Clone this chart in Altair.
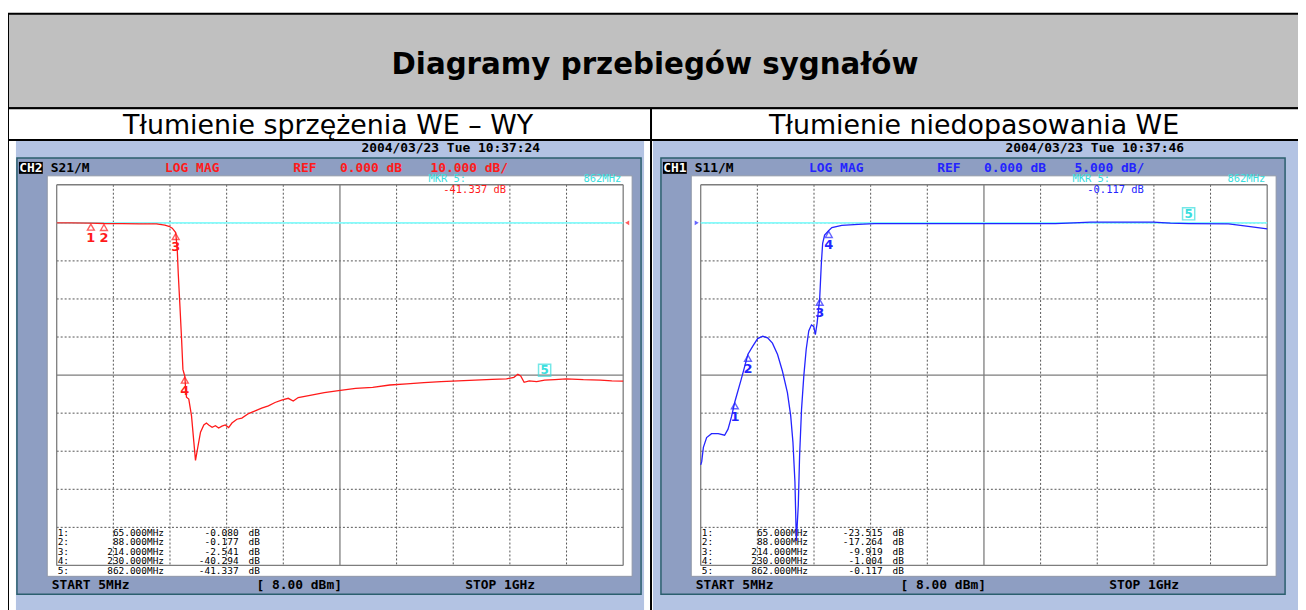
import altair as alt
import pandas as pd

# ---------------- data ----------------
TITLE = "Diagramy przebiegów sygnałów"
SUBTITLES = ["Tłumienie sprzężenia WE – WY", "Tłumienie niedopasowania WE"]

# S21 (left) trace: frequency [MHz], level [dB]
s21_freq = [5, 30, 65, 88, 120, 150, 180, 195, 202, 208, 214, 216.8, 218.5, 221.5, 224.4,
            226.7, 230, 231.5, 233, 237, 241.8, 245.9, 248.8, 253.4, 257.6, 263.4, 268, 272,
            278, 283.8, 289.5, 295.3, 301.2, 307, 312.8, 321.5, 330.2, 342, 353.6, 365, 376.8,
            388.5, 400, 411.7, 420.5, 429.2, 450, 475, 500, 530, 560, 590, 620, 650, 680, 710,
            740, 770, 795, 808, 815, 820, 826, 835, 848, 862, 880, 900, 930, 960, 980, 1000]
s21_db = [0.0, -0.03, -0.08, -0.18, -0.2, -0.25, -0.3, -0.6, -0.9, -1.4, -2.54, -7.2, -13.3,
          -22.0, -30.7, -38.5, -40.3, -43.7, -45.8, -46.3, -50.7, -57.6, -62.4, -58.5, -55.0,
          -53.1, -52.6, -53.1, -53.7, -53.3, -53.9, -53.4, -53.1, -53.8, -52.6, -51.6, -51.3,
          -50.1, -49.4, -48.7, -48.1, -47.2, -46.6, -46.1, -46.8, -45.9, -45.3, -44.6, -44.1,
          -43.5, -43.2, -42.6, -42.3, -42.0, -41.7, -41.5, -41.3, -41.1, -41.0, -40.6, -39.8,
          -40.2, -41.9, -41.5, -41.7, -41.34, -41.2, -41.0, -41.2, -41.3, -41.5, -41.6]

# S11 (right) trace
s11_freq = [5, 6.7, 9.7, 15.4, 24, 35.7, 47, 53, 59, 65, 76, 88, 96.5, 105, 114, 122.5, 131,
            140, 148.6, 157.3, 163, 167, 170.5, 173, 176.4, 178.7, 182.1, 186.1, 190.3, 194.8,
            199.5, 203.5, 206.4, 209.4, 214, 216.9, 219.2, 222.6, 230, 235.4, 252.8, 281.7,
            310, 400, 500, 628, 660, 690, 800, 830, 862, 932, 960, 1000]
s11_db = [-31.8, -31.4, -29.5, -28.2, -27.7, -27.7, -27.9, -27.1, -25.5, -23.5, -20.6, -17.26,
          -16.2, -15.2, -14.9, -15.1, -15.8, -17.3, -19.5, -22.3, -25.3, -28.8, -34.0, -41.8,
          -37.1, -30.6, -24.5, -20.1, -16.6, -14.2, -13.4, -13.6, -14.7, -13.2, -9.92, -5.3,
          -2.7, -1.6, -1.0, -0.63, -0.33, -0.2, -0.1, -0.1, -0.1, -0.1, 0.0, 0.1, 0.1, -0.05,
          -0.117, -0.15, -0.4, -0.8]

# markers
mk_freq = [65, 88, 214, 230, 862]
mk_s21 = [-0.080, -0.177, -2.541, -40.294, -41.337]
mk_s11 = [-23.515, -17.264, -9.919, -1.004, -0.117]

# grid divisions
x_div = [5, 104.5, 204, 303.5, 403, 502.5, 602, 701.5, 801, 900.5, 1000]
y_div_s21 = [10, 0, -10, -20, -30, -40, -50, -60, -70, -80, -90]
y_div_s11 = [5, 0, -5, -10, -15, -20, -25, -30, -35, -40, -45]

# ---------------- styling / layout ----------------
W, H = 1298, 602
MONO = "DejaVu Sans Mono"
SANS = "DejaVu Sans"
LIGHT = "#b3c3e3"
PANEL = "#8e9ec2"
EDGE = "#2b5f6e"
CYAN = "#3adede"
REFLINE = "#86fbfb"
one = pd.DataFrame({"k": [0]})


def rect(x, x2, y, y2, fill, stroke=None, sw=1.0):
    kw = dict(fill=fill)
    if stroke:
        kw.update(stroke=stroke, strokeWidth=sw)
    else:
        kw.update(strokeWidth=0)
    return alt.Chart(one).mark_rect(**kw).encode(
        x=alt.value(x), x2=alt.value(x2), y=alt.value(y), y2=alt.value(y2))


def line(x, x2, y, y2, color="black", sw=2.0):
    return alt.Chart(one).mark_rule(color=color, strokeWidth=sw).encode(
        x=alt.value(x), x2=alt.value(x2), y=alt.value(y), y2=alt.value(y2))


def label(x, y, s, color="black", size=13, weight="bold", align="left", font=MONO,
          baseline="middle"):
    return alt.Chart(one).mark_text(text=s, color=color, fontSize=size, fontWeight=weight,
                                    align=align, font=font, baseline=baseline).encode(
        x=alt.value(x), y=alt.value(y))


layers = []

# page frame: header + subtitles
layers.append(rect(0, W + 20, 4, 99, "#c0c0c0", "black", 2))
layers.append(rect(0, W + 20, 99, 131, "white", "black", 2))
layers.append(line(0, 0, 4, H + 5, "black", 2))
layers.append(line(647, 647, 99, H + 5, "black", 2))
layers.append(label(651, 65, TITLE, "black", 29.5, "bold", "center", SANS, "alphabetic"))
layers.append(label(322, 125, SUBTITLES[0], "black", 27, "normal", "center", SANS, "alphabetic"))
layers.append(label(972, 125, SUBTITLES[1], "black", 27, "normal", "center", SANS, "alphabetic"))


def panel(dx, ch, sparam, color, scale_txt, date, y_div, fr, db, mk_vals, bg_x0, bg_x1):
    out = []
    ymin, ymax = y_div[-1], y_div[0]
    xs = alt.Scale(domain=[5, 1000], range=[49 + dx, 619 + dx], nice=False, zero=False)
    ys = alt.Scale(domain=[ymin, ymax], range=[559, 176], nice=False, zero=False)

    # screenshot chrome
    out.append(rect(bg_x0, bg_x1, 132, H + 5, LIGHT))
    out.append(rect(9 + dx, 637 + dx, 149, 588, PANEL, EDGE, 1.5))
    out.append(rect(39.5 + dx, 628 + dx, 167, 570, "white", "#8f97a8", 1))
    out.append(label(445.5 + dx, 139, date, "black", 13, "bold", "center"))
    out.append(rect(11 + dx, 35 + dx, 153, 165, "black"))
    out.append(label(23 + dx, 159, ch, "white", 13, "bold", "center"))
    out.append(label(43 + dx, 159, sparam, "black", 13, "bold"))
    out.append(label(158 + dx, 159, "LOG MAG", color, 13, "bold"))
    out.append(label(287 + dx, 159, "REF", color, 13, "bold"))
    out.append(label(334 + dx, 159, "0.000 dB", color, 13, "bold"))
    out.append(label(425 + dx, 159, scale_txt, color, 13, "bold"))
    out.append(label(44 + dx, 579, "START 5MHz", "black", 13, "bold"))
    out.append(label(250 + dx, 579, "[ 8.00 dBm]", "black", 13, "bold"))
    out.append(label(460 + dx, 579, "STOP 1GHz", "black", 13, "bold"))

    # grid
    solid_idx = [0, 5, 10]
    vs = pd.DataFrame({"f": [x_div[i] for i in solid_idx], "top": ymax, "bot": ymin})
    vd = pd.DataFrame({"f": [v for i, v in enumerate(x_div) if i not in solid_idx],
                       "top": ymax, "bot": ymin})
    hs = pd.DataFrame({"db": [y_div[i] for i in solid_idx], "lo": 5, "hi": 1000})
    hd = pd.DataFrame({"db": [v for i, v in enumerate(y_div) if i not in solid_idx],
                       "lo": 5, "hi": 1000})
    X = lambda f: alt.X(f, scale=xs, axis=None)
    Y = lambda f: alt.Y(f, scale=ys, axis=None)
    out.append(alt.Chart(vd).mark_rule(color="#555555", strokeWidth=1, strokeDash=[2, 2])
               .encode(x=X("f:Q"), y=Y("top:Q"), y2="bot:Q"))
    out.append(alt.Chart(hd).mark_rule(color="#555555", strokeWidth=1, strokeDash=[2, 2])
               .encode(y=Y("db:Q"), x=X("lo:Q"), x2="hi:Q"))
    out.append(alt.Chart(vs).mark_rule(color="#7d7d7d", strokeWidth=1.3)
               .encode(x=X("f:Q"), y=Y("top:Q"), y2="bot:Q"))
    out.append(alt.Chart(hs).mark_rule(color="#7d7d7d", strokeWidth=1.3)
               .encode(y=Y("db:Q"), x=X("lo:Q"), x2="hi:Q"))

    # reference line at 0 dB
    ref = pd.DataFrame({"db": [0], "lo": [5], "hi": [1000]})
    out.append(alt.Chart(ref).mark_rule(color=REFLINE, strokeWidth=1.6)
               .encode(y=Y("db:Q"), x=X("lo:Q"), x2="hi:Q"))

    # marker table
    rows_y = [526.5, 535.8, 545.1, 554.4, 564.5]
    for i, (f, v) in enumerate(zip(mk_freq, mk_vals)):
        yy = rows_y[i]
        out.append(label(50 + dx, yy, f"{i + 1}:", "black", 9.5, "normal"))
        out.append(label(157 + dx, yy, f"{f:.3f}MHz", "black", 9.5, "normal", "right"))
        out.append(label(232 + dx, yy, f"{v:.3f}", "black", 9.5, "normal", "right"))
        out.append(label(242 + dx, yy, "dB", "black", 9.5, "normal"))

    # marker readout
    out.append(label(423 + dx, 170.5, "MKR  5:", CYAN, 10.5, "normal"))
    out.append(label(617 + dx, 170.5, f"{mk_freq[4]:.0f}MHz", CYAN, 10.5, "normal", "right"))
    out.append(label(438 + dx, 181.5, f"{mk_vals[4]:.3f} dB", color, 10.5, "normal"))

    # trace
    tr = pd.DataFrame({"f": fr, "db": db})
    out.append(alt.Chart(tr).mark_line(color=color, strokeWidth=1.3)
               .encode(x=X("f:Q"), y=Y("db:Q")))

    # markers 1-4
    mk = pd.DataFrame({"f": mk_freq[:4], "db": mk_vals[:4],
                       "n": [str(i + 1) for i in range(4)]})
    out.append(alt.Chart(mk).mark_point(shape="triangle-up", filled=False, size=48,
                                        color=color, strokeWidth=1.4, yOffset=4)
               .encode(x=X("f:Q"), y=Y("db:Q")))
    out.append(alt.Chart(mk).mark_text(color=color, fontSize=13, font=SANS, dy=15,
                                       fontWeight="bold")
               .encode(x=X("f:Q"), y=Y("db:Q"), text="n:N"))
    # marker 5 (active)
    m5 = pd.DataFrame({"f": [mk_freq[4]], "db": [mk_vals[4]], "n": ["5"]})
    out.append(alt.Chart(m5).mark_point(shape="square", filled=False, size=150, color=CYAN,
                                        strokeWidth=1.5, yOffset=-10)
               .encode(x=X("f:Q"), y=Y("db:Q")))
    out.append(alt.Chart(m5).mark_text(color=CYAN, fontSize=12, font=SANS, dy=-10,
                                       fontWeight="bold")
               .encode(x=X("f:Q"), y=Y("db:Q"), text="n:N"))
    return out, xs, ys


left, lxs, lys = panel(0, "CH2", "S21/M", "#ff1a1a", "10.000 dB/", "2004/03/23 Tue 10:37:24",
                       y_div_s21, s21_freq, s21_db, mk_s21, 8, 640)
right, rxs, rys = panel(648, "CH1", "S11/M", "#2424ff", "5.000 dB/", "2004/03/23 Tue 10:37:46",
                        y_div_s11, s11_freq, s11_db, mk_s11, 649, W + 10)

# reference level indicators
refpt = pd.DataFrame({"f": [1000], "db": [0]})
left.append(alt.Chart(refpt).mark_point(shape="triangle-left", filled=True, size=22,
                                        color="#ff1a1a", xOffset=4)
            .encode(x=alt.X("f:Q", scale=lxs, axis=None), y=alt.Y("db:Q", scale=lys, axis=None)))
refpt2 = pd.DataFrame({"f": [5], "db": [0]})
right.append(alt.Chart(refpt2).mark_point(shape="triangle-right", filled=True, size=22,
                                          color="#2424ff", xOffset=-4)
             .encode(x=alt.X("f:Q", scale=rxs, axis=None), y=alt.Y("db:Q", scale=rys, axis=None)))

layers += left + right

chart = (alt.layer(*layers)
         .resolve_scale(x="independent", y="independent")
         .properties(width=W, height=H, padding=0,
                     autosize=alt.AutoSizeParams(type="none"), background="white")
         .configure_view(stroke=None))

chart.save("out.html", embed_options={"renderer": "svg", "actions": False})
